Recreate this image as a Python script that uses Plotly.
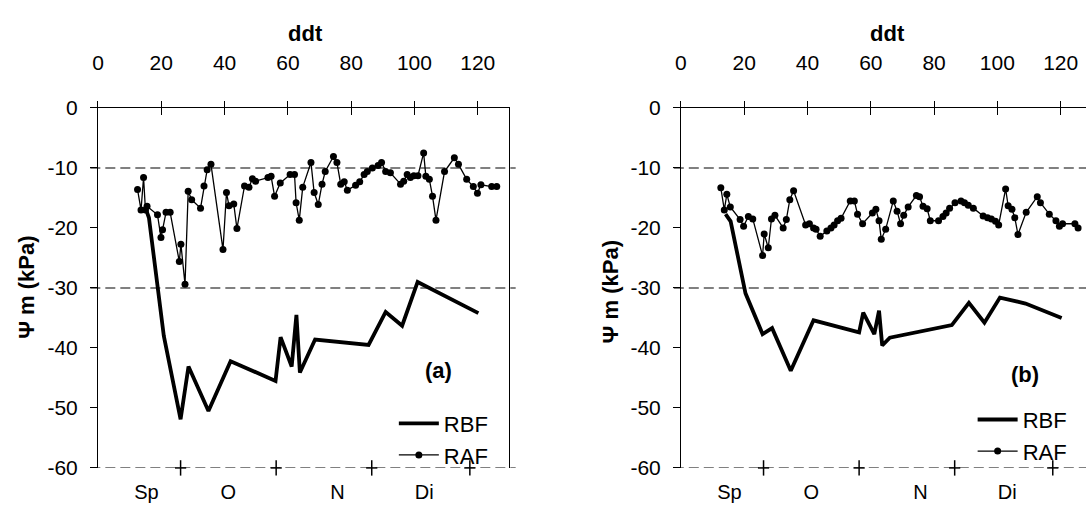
import plotly.graph_objects as go

# ---------------- data ----------------
raf_a_x = [12.5, 13.6, 14.4, 15.0, 15.5, 18.8, 19.9, 20.4, 21.5, 22.8, 25.7, 26.2, 27.5, 28.5, 29.6,
           32.4, 33.5, 34.5, 35.7, 39.5, 40.6, 41.4, 42.9, 43.9, 46.3, 47.7, 48.8, 49.8, 53.7, 54.7,
           55.8, 57.6, 60.7, 62.1, 62.6, 63.6, 64.7, 67.3, 68.3, 69.6, 70.8, 71.8, 74.4, 75.5, 76.7,
           77.8, 78.8, 81.4, 82.7, 84.1, 85.1, 86.7, 88.5, 89.6, 90.9, 92.4, 95.6, 96.6, 97.7, 98.7,
           99.8, 101.1, 102.9, 103.6, 104.7, 105.7, 106.8, 109.5, 112.6, 113.9, 116.5, 118.6, 119.9,
           121.0, 124.4, 126.0]
raf_a_y = [-13.6, -17.0, -11.6, -17.0, -16.4, -17.8, -21.6, -20.3, -17.4, -17.4, -25.6, -22.7, -29.4,
           -13.9, -15.3, -16.7, -13.0, -10.3, -9.4, -23.6, -14.1, -16.3, -16.0, -20.1, -13.0, -13.2,
           -11.8, -12.2, -11.6, -11.4, -14.7, -12.5, -11.1, -11.1, -15.8, -18.7, -13.2, -9.1, -14.1,
           -16.1, -12.7, -10.6, -8.1, -9.1, -12.7, -12.3, -13.7, -12.9, -12.3, -11.1, -10.6, -10.0,
           -9.6, -9.1, -10.6, -10.8, -12.7, -12.2, -11.1, -11.6, -11.3, -11.3, -7.5, -11.4, -11.9,
           -14.7, -18.7, -10.6, -8.3, -9.4, -11.9, -13.1, -14.2, -12.8, -13.1, -13.1]

rbf_a_x = [15.3, 16.1, 20.8, 26.1, 28.6, 34.9, 41.9, 56.1, 57.7, 61.2, 62.7, 63.8, 68.6, 85.5, 90.9,
           96.1, 101.0, 120.2]
rbf_a_y = [-17.1, -18.3, -38.0, -51.9, -43.1, -50.5, -42.2, -45.5, -38.2, -43.1, -34.5, -44.1, -38.6,
           -39.5, -34.0, -36.3, -29.0, -34.2]

raf_b_x = [12.6, 13.7, 14.5, 15.6, 18.7, 19.8, 21.3, 22.7, 25.8, 26.3, 27.6, 28.6, 29.7, 32.3, 33.3,
           34.4, 35.6, 39.4, 40.6, 41.9, 42.7, 44.0, 46.1, 47.4, 48.4, 49.5, 50.6, 53.5, 54.8, 55.8,
           57.4, 60.5, 61.6, 62.6, 63.3, 64.7, 67.1, 68.3, 69.4, 70.4, 71.8, 74.4, 75.4, 76.5, 77.8,
           78.8, 81.4, 82.8, 83.8, 84.9, 86.6, 88.5, 89.6, 90.8, 92.4, 95.5, 96.9, 98.1, 99.4, 100.4,
           102.6, 103.4, 104.6, 105.5, 106.5, 109.1, 112.6, 113.6, 116.4, 118.5, 119.6, 120.6, 124.5,
           125.5]
raf_b_y = [-13.3, -17.0, -14.4, -16.5, -18.6, -19.7, -18.1, -18.5, -24.6, -21.0, -23.3, -18.5, -17.9,
           -20.0, -18.6, -15.3, -13.8, -19.5, -19.3, -20.0, -20.2, -21.4, -20.5, -20.0, -19.5, -18.8,
           -18.4, -15.5, -15.5, -17.7, -19.3, -17.5, -16.9, -18.8, -21.9, -20.2, -15.5, -17.2, -19.3,
           -17.9, -16.5, -14.6, -14.8, -16.4, -16.8, -18.8, -18.8, -18.1, -17.5, -16.7, -15.8, -15.5,
           -15.8, -16.2, -16.7, -18.0, -18.3, -18.5, -18.9, -19.5, -13.5, -16.3, -16.9, -18.3, -21.1,
           -17.4, -14.8, -15.8, -17.7, -18.8, -19.7, -19.3, -19.3, -20.0]

rbf_b_x = [14.1, 15.7, 20.4, 25.8, 28.8, 34.7, 41.9, 56.3, 57.6, 61.1, 62.6, 63.6, 66.0, 85.6, 91.0,
           95.9, 100.8, 108.9, 120.3]
rbf_b_y = [-17.7, -18.9, -30.9, -37.7, -36.7, -43.8, -35.4, -37.4, -34.1, -37.7, -33.8, -39.6, -38.3,
           -36.2, -32.5, -35.8, -31.6, -32.6, -35.0]

x_ticks = [0, 20, 40, 60, 80, 100, 120]
y_ticks = [0, -10, -20, -30, -40, -50, -60]
y_tick_text = ["0", "-10", "-20", "-30", "-40", "-50", "-60"]
ref_levels = [-10, -30, -60]
month_bounds = [26.1, 56.3, 86.5, 117.5]
month_pos = [15.3, 41.2, 75.7, 103.1]
month_names = ["Sp", "O", "N", "Di"]

# ---------------- figure ----------------
FONT = "Arial, Liberation Sans, sans-serif"
W, H = 1086, 509
ydom = [1 - 477.5 / H, 1 - 100.5 / H]
dom_a = [92.5 / W, 506.2 / W]
dom_b = [678.7 / W, 1.0]
range_a = [0, 130]
range_b = [0, (W - 678.7) / 3.182]

fig = go.Figure()

panels = [
    dict(x="x", y="y", tx="x3", mx="x5", leg="legend", rbf=(rbf_a_x, rbf_a_y), raf=(raf_a_x, raf_a_y)),
    dict(x="x2", y="y2", tx="x4", mx="x6", leg="legend2", rbf=(rbf_b_x, rbf_b_y), raf=(raf_b_x, raf_b_y)),
]

for p in panels:
    fig.add_trace(go.Scatter(x=p["rbf"][0], y=p["rbf"][1], mode="lines", name="RBF",
                             line=dict(color="black", width=3.8), xaxis=p["x"], yaxis=p["y"],
                             legend=p["leg"]))
    fig.add_trace(go.Scatter(x=p["raf"][0], y=p["raf"][1], mode="lines+markers", name="RAF",
                             line=dict(color="black", width=1.3), marker=dict(color="black", size=7),
                             xaxis=p["x"], yaxis=p["y"], legend=p["leg"]))
    # month boundary "+" marks on the bottom line
    fig.add_trace(go.Scatter(x=month_bounds, y=[y_ticks[-1]] * len(month_bounds), mode="markers",
                             marker=dict(symbol="line-ns", size=11, line=dict(color="black", width=1.5)),
                             xaxis=p["x"], yaxis=p["y"], showlegend=False, cliponaxis=False,
                             hoverinfo="skip"))
    fig.add_trace(go.Scatter(x=month_bounds, y=[y_ticks[-1]] * len(month_bounds), mode="markers",
                             marker=dict(symbol="line-ew", size=8, line=dict(color="black", width=1.5)),
                             xaxis=p["x"], yaxis=p["y"], showlegend=False, cliponaxis=False,
                             hoverinfo="skip"))
    # empty traces so the overlay axes (crossing ticks, month labels) render
    fig.add_trace(go.Scatter(x=[None], y=[None], xaxis=p["tx"], yaxis=p["y"], showlegend=False))
    fig.add_trace(go.Scatter(x=[None], y=[None], xaxis=p["mx"], yaxis=p["y"], showlegend=False))

tickfont = dict(family=FONT, size=21, color="black")

def top_axis(dom, rng, anchor):
    return dict(domain=dom, range=rng, side="top", anchor=anchor, tickvals=x_ticks,
                ticks="outside", ticklen=6, tickcolor="black", showline=True, linecolor="black",
                linewidth=1, showgrid=False, zeroline=False, tickfont=tickfont,
                ticklabelstandoff=23, fixedrange=True)

def inner_tick_axis(rng, over, anchor):
    return dict(overlaying=over, range=rng, side="top", anchor=anchor, tickvals=x_ticks,
                ticks="inside", ticklen=7, tickcolor="black", showticklabels=False,
                showline=False, showgrid=False, zeroline=False)

def month_axis(rng, over, anchor):
    return dict(overlaying=over, range=rng, side="bottom", anchor=anchor, tickvals=month_pos,
                ticktext=month_names, ticks="", showline=False, showgrid=False, zeroline=False,
                tickfont=dict(family=FONT, size=20, color="black"), ticklabelstandoff=10)

def y_axis(anchor, mirror):
    return dict(domain=ydom, range=[-60, 0], anchor=anchor, tickvals=y_ticks, ticktext=y_tick_text,
                ticks="outside", ticklen=7, tickcolor="black", showline=True, linecolor="black",
                linewidth=1, mirror=mirror, showgrid=False, zeroline=False, tickfont=tickfont,
                ticklabelstandoff=8, fixedrange=True)

legfont = dict(family=FONT, size=22, color="black")
fig.update_layout(
    width=W, height=H, margin=dict(l=0, r=0, t=0, b=0),
    paper_bgcolor="white", plot_bgcolor="white",
    xaxis=top_axis(dom_a, range_a, "y"),
    xaxis2=top_axis(dom_b, range_b, "y2"),
    xaxis3=inner_tick_axis(range_a, "x", "y"),
    xaxis4=inner_tick_axis(range_b, "x2", "y2"),
    xaxis5=month_axis(range_a, "x", "y"),
    xaxis6=month_axis(range_b, "x2", "y2"),
    yaxis=y_axis("x", True),
    yaxis2=y_axis("x2", False),
    legend=dict(x=390 / W, y=1 - 409 / H, xanchor="left", yanchor="top", bgcolor="rgba(0,0,0,0)",
                font=legfont, tracegroupgap=0, itemwidth=40),
    legend2=dict(x=972 / W, y=1 - 405 / H, xanchor="left", yanchor="top", bgcolor="rgba(0,0,0,0)",
                 font=legfont, tracegroupgap=0, itemwidth=40),
    showlegend=True,
)

# dashed reference lines
for yref, x0, x1 in [("y", 84.8 / W, 512.5 / W), ("y2", 671.5 / W, 1.0)]:
    for lv in ref_levels:
        fig.add_shape(type="line", xref="paper", yref=yref, x0=x0, x1=x1, y0=lv, y1=lv,
                      line=dict(color="#808080", width=2, dash="10px,5px"), layer="below")

# annotations: titles, panel letters
ann = [
    dict(text="<b>ddt</b>", x=301 / W, y=1 - 23 / H),
    dict(text="<b>ddt</b>", x=886 / W, y=1 - 23 / H),
    dict(text="<b>(a)</b>", x=434.5 / W, y=1 - 375 / H),
    dict(text="<b>(b)</b>", x=1025 / W, y=1 - 380 / H),
]
for a in ann:
    fig.add_annotation(text=a["text"], x=a["x"], y=a["y"], xref="paper", yref="paper",
                       showarrow=False, xanchor="center", yanchor="middle",
                       font=dict(family=FONT, size=22, color="black"))
for xpos, ypos in [(21 / W, 1 - 288 / H), (608 / W, 1 - 293 / H)]:
    fig.add_annotation(text="<b>Ψ m (kPa)</b>", x=xpos, y=ypos, xref="paper", yref="paper",
                       showarrow=False, textangle=-90, xanchor="center", yanchor="middle",
                       font=dict(family=FONT, size=22, color="black"))

fig.write_html("out.html")
